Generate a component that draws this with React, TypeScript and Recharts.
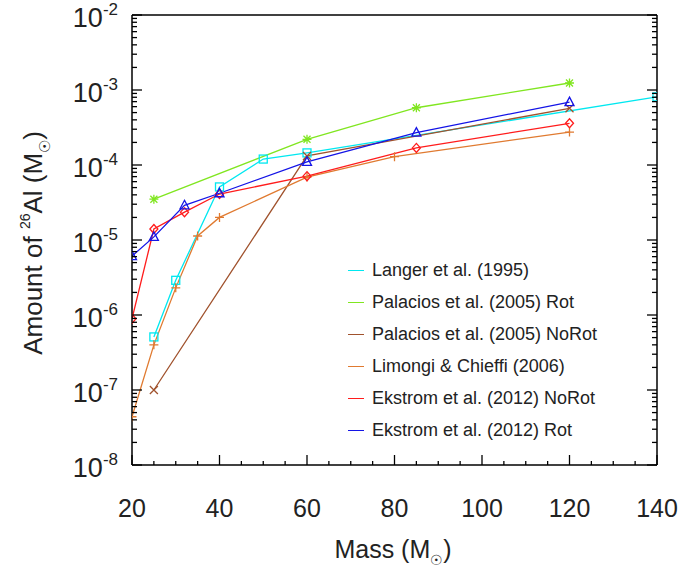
import { LineChart, Line, XAxis, YAxis } from "recharts";

// masses (Msun) and 26Al yields (Msun)
const langerMass = [25, 30, 40, 50, 60, 140];
const langerAl = [5.1e-7, 2.9e-6, 5.1e-5, 1.2e-4, 1.45e-4, 8.1e-4];

const palaciosRotMass = [25, 60, 85, 120];
const palaciosRotAl = [3.5e-5, 2.2e-4, 5.8e-4, 1.24e-3];

const palaciosNoRotMass = [25, 60, 120];
const palaciosNoRotAl = [1.0e-7, 1.32e-4, 5.7e-4];

const limongiMass = [20, 25, 30, 35, 40, 60, 80, 120];
const limongiAl = [4.4e-8, 4.0e-7, 2.3e-6, 1.13e-5, 2.0e-5, 6.9e-5, 1.29e-4, 2.75e-4];

const ekstromNoRotMass = [20, 25, 32, 40, 60, 85, 120];
const ekstromNoRotAl = [8.9e-7, 1.4e-5, 2.35e-5, 4.1e-5, 7.1e-5, 1.69e-4, 3.6e-4];

const ekstromRotMass = [20, 25, 32, 40, 60, 85, 120];
const ekstromRotAl = [6.1e-6, 1.1e-5, 2.9e-5, 4.2e-5, 1.1e-4, 2.7e-4, 6.9e-4];

const xMajor = [20, 40, 60, 80, 100, 120, 140];
const xTicks = [20, 25, 30, 35, 40, 45, 50, 55, 60, 65, 70, 75, 80, 85, 90, 95, 100, 105, 110, 115, 120, 125, 130, 135, 140];
const yDecades = [-8, -7, -6, -5, -4, -3, -2];

const yTicks: number[] = [];
yDecades.forEach((d) => {
  if (d === -2) {
    yTicks.push(1e-2);
    return;
  }
  for (let m = 1; m <= 9; m++) yTicks.push(Number((m * Math.pow(10, d)).toPrecision(3)));
});

const toRows = (xs: number[], ys: number[]) => xs.map((x, i) => ({ x, y: ys[i] }));

const FONT = "'Liberation Sans', Arial, sans-serif";
const TXT = "#222";

const isDecade = (v: number) => {
  const l = Math.log10(v);
  return Math.abs(l - Math.round(l)) < 1e-6;
};

const LeftTick = (p: any) => {
  const v = p.payload.value;
  const major = isDecade(v);
  const exp = Math.round(Math.log10(v));
  return (
    <g>
      <line x1={p.x} y1={p.y} x2={p.x + (major ? 10 : 5)} y2={p.y} stroke="#000" strokeWidth={1.3} />
      {major && (
        <text x={p.x - 14} y={p.y + 12} textAnchor="end" fontFamily={FONT} fill={TXT} fontSize={27}>
          10<tspan fontSize={17} dy={-12}>{exp}</tspan>
        </text>
      )}
    </g>
  );
};

const RightTick = (p: any) => {
  const major = isDecade(p.payload.value);
  return <line x1={p.x} y1={p.y} x2={p.x - (major ? 10 : 5)} y2={p.y} stroke="#000" strokeWidth={1.3} />;
};

const BottomTick = (p: any) => {
  const v = p.payload.value;
  const major = xMajor.includes(v);
  return (
    <g>
      <line x1={p.x} y1={p.y} x2={p.x} y2={p.y - (major ? 10 : 4)} stroke="#000" strokeWidth={1.3} />
      {major && (
        <text x={p.x} y={p.y + 52} textAnchor="middle" fontFamily={FONT} fill={TXT} fontSize={25}>
          {v}
        </text>
      )}
    </g>
  );
};

const TopTick = (p: any) => {
  const major = xMajor.includes(p.payload.value);
  return <line x1={p.x} y1={p.y} x2={p.x} y2={p.y + (major ? 10 : 4)} stroke="#000" strokeWidth={1.3} />;
};

const square = (c: string) => (p: any) => (
  <rect key={p.key} x={p.cx - 4} y={p.cy - 4} width={8} height={8} fill="none" stroke={c} strokeWidth={1.3} />
);
const diamond = (c: string) => (p: any) => (
  <path key={p.key} d={`M${p.cx},${p.cy - 4.5}L${p.cx + 4},${p.cy}L${p.cx},${p.cy + 4.5}L${p.cx - 4},${p.cy}Z`} fill="none" stroke={c} strokeWidth={1.3} />
);
const triangle = (c: string) => (p: any) => (
  <path key={p.key} d={`M${p.cx},${p.cy - 5}L${p.cx + 4.5},${p.cy + 3.5}L${p.cx - 4.5},${p.cy + 3.5}Z`} fill="none" stroke={c} strokeWidth={1.3} />
);
const cross = (c: string) => (p: any) => (
  <path key={p.key} d={`M${p.cx - 4},${p.cy - 4}L${p.cx + 4},${p.cy + 4}M${p.cx - 4},${p.cy + 4}L${p.cx + 4},${p.cy - 4}`} stroke={c} strokeWidth={1.3} />
);
const plus = (c: string) => (p: any) => (
  <path key={p.key} d={`M${p.cx - 4.5},${p.cy}L${p.cx + 4.5},${p.cy}M${p.cx},${p.cy - 4.5}L${p.cx},${p.cy + 4.5}`} stroke={c} strokeWidth={1.3} />
);
const star = (c: string) => (p: any) => (
  <path
    key={p.key}
    d={`M${p.cx - 4.5},${p.cy}L${p.cx + 4.5},${p.cy}M${p.cx},${p.cy - 4.5}L${p.cx},${p.cy + 4.5}M${p.cx - 3.5},${p.cy - 3.5}L${p.cx + 3.5},${p.cy + 3.5}M${p.cx - 3.5},${p.cy + 3.5}L${p.cx + 3.5},${p.cy - 3.5}`}
    stroke={c}
    strokeWidth={1.3}
  />
);

const series = [
  { name: "Langer et al. (1995)", color: "#00e8f0", data: toRows(langerMass, langerAl), dot: square },
  { name: "Palacios et al. (2005) Rot", color: "#80e620", data: toRows(palaciosRotMass, palaciosRotAl), dot: star },
  { name: "Palacios et al. (2005) NoRot", color: "#a0522d", data: toRows(palaciosNoRotMass, palaciosNoRotAl), dot: cross },
  { name: "Limongi & Chieffi (2006)", color: "#e07a30", data: toRows(limongiMass, limongiAl), dot: plus },
  { name: "Ekstrom et al. (2012) NoRot", color: "#ff1c1c", data: toRows(ekstromNoRotMass, ekstromNoRotAl), dot: diamond },
  { name: "Ekstrom et al. (2012) Rot", color: "#1414e6", data: toRows(ekstromRotMass, ekstromRotAl), dot: triangle },
];

export default function App() {
  return (
    <div style={{ position: "absolute", left: 0, top: 0, width: 700, height: 569, background: "#fff" }}>
      <LineChart width={700} height={569} data={[]} margin={{ top: 14, right: 42, bottom: 0, left: 0 }}>
        <XAxis
          dataKey="x"
          type="number"
          domain={[20, 140]}
          ticks={xTicks}
          interval={0}
          height={104}
          tickSize={0}
          tickMargin={0}
          axisLine={{ stroke: "#000", strokeWidth: 1.5 }}
          tick={<BottomTick />}
          allowDataOverflow
        />
        <XAxis
          xAxisId="top"
          orientation="top"
          type="number"
          domain={[20, 140]}
          ticks={xTicks}
          interval={0}
          height={1}
          tickSize={0}
          tickMargin={0}
          axisLine={{ stroke: "#000", strokeWidth: 1.5 }}
          tick={<TopTick />}
          allowDataOverflow
        />
        <YAxis
          dataKey="y"
          scale="log"
          type="number"
          domain={[1e-8, 1e-2]}
          ticks={yTicks}
          interval={0}
          width={132}
          tickSize={0}
          tickMargin={0}
          axisLine={{ stroke: "#000", strokeWidth: 1.5 }}
          tick={<LeftTick />}
          allowDataOverflow
        />
        <YAxis
          yAxisId="right"
          orientation="right"
          scale="log"
          type="number"
          domain={[1e-8, 1e-2]}
          ticks={yTicks}
          interval={0}
          width={1}
          tickSize={0}
          tickMargin={0}
          axisLine={{ stroke: "#000", strokeWidth: 1.5 }}
          tick={<RightTick />}
          allowDataOverflow
        />
        {series.map((s) => (
          <Line
            key={s.name}
            name={s.name}
            data={s.data}
            dataKey="y"
            stroke={s.color}
            strokeWidth={1.3}
            dot={s.dot(s.color)}
            activeDot={false}
            isAnimationActive={false}
          />
        ))}
        <text x={393} y={558} textAnchor="middle" fontFamily={FONT} fill={TXT} fontSize={25}>
          Mass (M<tspan fontSize={14} dy={7}>☉</tspan>
          <tspan dy={-7}>)</tspan>
        </text>
        <text
          transform="translate(42,243) rotate(-90)"
          textAnchor="middle"
          fontFamily={FONT}
          fill={TXT}
          fontSize={26}
        >
          Amount of <tspan fontSize={14} dy={-12}>26</tspan>
          <tspan dy={12}>Al (M</tspan>
          <tspan fontSize={15} dy={8}>☉</tspan>
          <tspan dy={-8}>)</tspan>
        </text>
      </LineChart>
      <div style={{ position: "absolute", left: 348, top: 254, fontFamily: FONT, fontSize: 18, color: TXT, lineHeight: "32px" }}>
        {series.map((s) => (
          <div key={s.name} style={{ height: 32, display: "flex", alignItems: "center", whiteSpace: "nowrap" }}>
            <span style={{ display: "inline-block", width: 16, height: 0, borderTop: `1.5px solid ${s.color}`, marginRight: 8 }} />
            {s.name}
          </div>
        ))}
      </div>
    </div>
  );
}
